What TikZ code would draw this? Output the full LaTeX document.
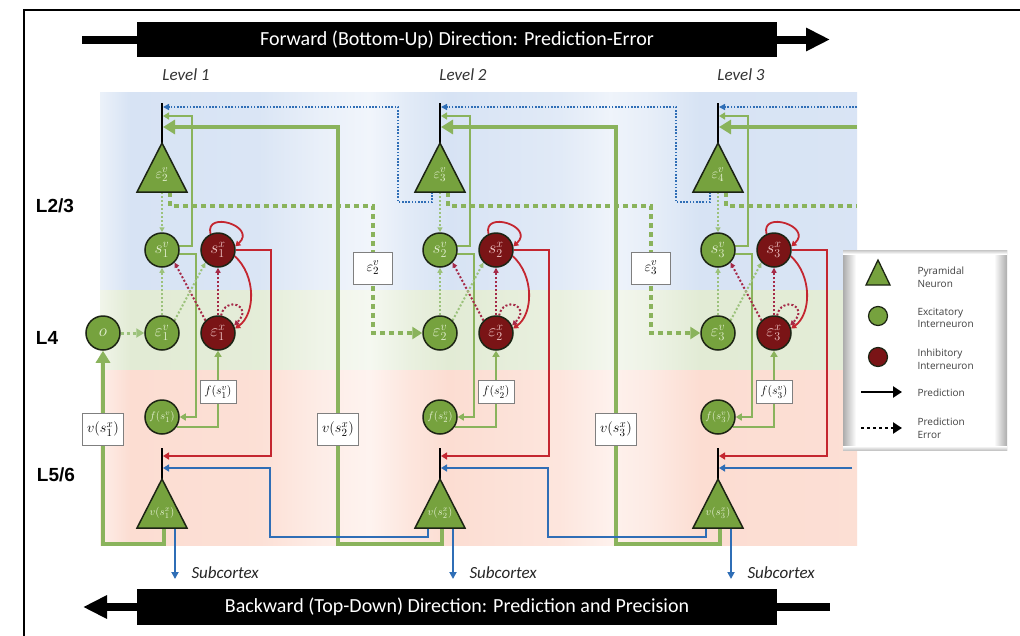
\documentclass[tikz,border=0pt]{standalone}
\usepackage{fontspec}
\setmainfont{Carlito}
\newfontfamily\lsans{Liberation Sans}
\newfontfamily\osans{Open Sans}
\usetikzlibrary{arrows.meta,calc}
\definecolor{gfill}{HTML}{76A23E}
\definecolor{gline}{HTML}{8AB35C}
\definecolor{gdot}{HTML}{9CC27C}
\definecolor{rfill}{HTML}{7A1416}
\definecolor{rline}{HTML}{C42630}
\definecolor{rdot}{HTML}{A52A48}
\definecolor{bline}{HTML}{2F6EB6}
\definecolor{outl}{HTML}{1C2414}
\definecolor{gtext}{HTML}{E4F0D2}
\definecolor{rtext}{HTML}{F4CDCD}
\definecolor{boxc}{HTML}{7F7F7F}
\definecolor{bandB}{HTML}{D7E3F4}
\definecolor{bandG}{HTML}{E2EBD5}
\definecolor{bandP}{HTML}{FCDDD2}
\newcommand\mybandshading[2]{%
 \pgfdeclarehorizontalshading{#1}{100bp}{color(0bp)=(white); color(25bp)=(#2!50!white); color(27bp)=(#2); color(35.5bp)=(#2!92!white); color(39.5bp)=(#2!55!white); color(42.8bp)=(#2!35!white); color(45.5bp)=(#2!75!white); color(48bp)=(#2); color(55.4bp)=(#2!75!white); color(58.7bp)=(#2!40!white); color(61.3bp)=(#2!60!white); color(64.6bp)=(#2); color(75bp)=(#2!95!white); color(100bp)=(white)}}
\mybandshading{shB}{bandB}
\mybandshading{shG}{bandG}
\mybandshading{shP}{bandP}
\pgfdeclarelayer{bands}
\pgfdeclarelayer{lines}
\pgfsetlayers{bands,lines,main}
\begin{document}
\begin{tikzpicture}[x=1pt,y=1pt,
  gnode/.style={circle,draw=outl,line width=1.5pt,fill=gfill,minimum size=34pt,inner sep=0pt,text=gtext,font=\fontsize{17.5}{17.5}\selectfont},
  rnode/.style={gnode,fill=rfill,text=rtext},
  lbox/.style={draw=boxc,fill=white,line width=0.9pt,inner sep=0pt,font=\fontsize{15.5}{15.5}\selectfont},
  gpred/.style={draw=gline,line width=2.2pt},
  gpredT/.style={draw=gline,line width=4.5pt},
  gerr/.style={draw=gdot,line width=2pt,dash pattern=on 2pt off 2pt},
  gerrT/.style={draw=gline,line width=4.5pt,dash pattern=on 4.5pt off 4.5pt},
  rerr/.style={draw=rdot,line width=2pt,dash pattern=on 2pt off 2pt},
  rpred/.style={draw=rline,line width=1.8pt},
  bpred/.style={draw=bline,line width=1.8pt},
  berr/.style={draw=bline,line width=1.6pt,dash pattern=on 1.6pt off 1.6pt},
  pyr/.style={draw=outl,line width=1.5pt,fill=gfill,line join=miter},
  dend/.style={draw=black,line width=2pt},
  smtip/.style={-{Triangle[length=6pt,width=7pt]}},
  bigtip/.style={-{Triangle[length=12pt,width=14pt]}},
  banner/.style={fill=black,minimum width=640pt,minimum height=35pt,inner sep=0pt,text=white,font=\fontsize{20}{20}\selectfont},
  lvl/.style={font=\itshape\fontsize{17}{17}\selectfont,text=black!80},
  lay/.style={font=\lsans\bfseries\fontsize{19}{19}\selectfont},
  legt/.style={anchor=west,align=left,font=\osans\fontsize{10}{12.5}\selectfont,text=black!75},
]
\useasboundingbox (0,0) rectangle (1020,-635);
\begin{pgfonlayer}{bands}
\fill[white] (0,0) rectangle (1020,-635);
\shade[shading=shB] (100,-92) rectangle (857,-290);
\shade[shading=shG] (100,-290) rectangle (857,-370);
\shade[shading=shP] (100,-370) rectangle (857,-545);
\end{pgfonlayer}

% frame
\draw[line width=2.5pt] (24,-640) -- (24,-10) -- (1025,-10);

% banners
\node[banner] (fwd) at (457,-39.5) {Forward (Bottom-Up) Direction: Prediction-Error};
\coordinate (fwdtail) at (82,-39.5);
\coordinate (fwdtip) at (830,-39.5);
\draw[line width=8pt] (fwdtail) -- (fwd.west);
\draw[line width=8pt,-{Triangle[length=24pt,width=22pt]}] (fwd.east) -- (fwdtip);
\node[banner,minimum height=36pt] (bwd) at (457,-607) {Backward (Top-Down) Direction: Prediction and Precision};
\coordinate (bwdtip) at (83,-607);
\coordinate (bwdtail) at (830,-607);
\draw[line width=8pt,-{Triangle[length=24pt,width=22pt]}] (bwd.west) -- (bwdtip);
\draw[line width=8pt] (bwd.east) -- (bwdtail);

% labels
\node[lvl] (lv1) at (186,-75) {Level 1};
\node[lvl] (lv2) at (463,-75) {Level 2};
\node[lvl] (lv3) at (741,-75) {Level 3};
\node[lay] (l23) at (55,-206) {L2/3};
\node[lay] (l4) at (47,-338) {L4};
\node[lay] (l56) at (56,-475) {L5/6};

% levels: nodes
\foreach \X/\i/\j in {162/1/2, 440/2/3, 718/3/4}{
  \coordinate (ta\i) at (\X,-143);
  \coordinate (tl\i) at ({\X-25},-192);
  \coordinate (tr\i) at ({\X+25},-192);
  \coordinate (tt\i) at (\X,-103);
  \coordinate (tb\i) at (\X,-192);
  \coordinate (te\i) at ({\X+8},-192);
  \coordinate (tk\i) at ({\X-8},-192);
  \coordinate (dA\i) at ({\X+1},-107);
  \coordinate (dB\i) at ({\X+1},-116);
  \coordinate (dC\i) at ({\X+1},-127);
  \draw[dend] (ta\i) -- (tt\i);
  \draw[pyr] (tl\i) -- (tr\i) -- (ta\i) -- cycle;
  \node[font=\fontsize{15}{15}\selectfont,text=gtext] (tp\i) at (\X,-175) {$\varepsilon_{\j}^{v}$};
  \coordinate (ba\i) at (\X,-479);
  \coordinate (bl\i) at ({\X-25},-528);
  \coordinate (br\i) at ({\X+25},-528);
  \coordinate (bt\i) at (\X,-448);
  \coordinate (bm\i) at ({\X+2},-528);
  \coordinate (bk\i) at ({\X-12},-528);
  \coordinate (sc\i) at ({\X+13},-528);
  \coordinate (se\i) at ({\X+13},-579);
  \coordinate (dR\i) at ({\X+1},-456);
  \coordinate (dL\i) at ({\X+1},-468);
  \draw[dend] (ba\i) -- (bt\i);
  \draw[pyr] (bl\i) -- (br\i) -- (ba\i) -- cycle;
  \node[font=\fontsize{11}{11}\selectfont,text=gtext] (bp\i) at (\X,-513) {$v(s_{\i}^{x})$};
  \node[gnode] (sv\i) at (\X,-250) {$s_{\i}^{v}$};
  \node[rnode] (sx\i) at ({\X+56},-250) {$s_{\i}^{x}$};
  \node[gnode] (ev\i) at (\X,-333) {$\varepsilon_{\i}^{v}$};
  \node[rnode] (ex\i) at ({\X+56},-333) {$\varepsilon_{\i}^{x}$};
  \node[gnode,font=\fontsize{11}{11}\selectfont] (fc\i) at (\X,-417) {$f(s_{\i}^{v})$};
  \node[lbox,minimum width=36pt,minimum height=23pt,font=\fontsize{12.5}{12.5}\selectfont] (fb\i) at ({\X+56},-392) {$f(s_{\i}^{v})$};
  \node[anchor=west,font=\itshape\fontsize{17}{17}\selectfont,text=black!85] (sub\i) at ({\X+26},-573) {Subcortex};
}
\node[gnode] (o) at (103,-333) {$o$};
\node[lbox,minimum width=41pt,minimum height=32pt] (vb1) at (103,-429) {$v(s_1^x)$};
\node[lbox,minimum width=41pt,minimum height=32pt] (vb2) at (338,-429) {$v(s_2^x)$};
\node[lbox,minimum width=41pt,minimum height=32pt] (vb3) at (616,-429) {$v(s_3^x)$};
\node[lbox,minimum width=39pt,minimum height=32pt] (eb2) at (373,-268) {$\varepsilon_2^v$};
\node[lbox,minimum width=39pt,minimum height=32pt] (eb3) at (651,-268) {$\varepsilon_3^v$};
\coordinate (rin1) at (857,-127);
\coordinate (rin2) at (857,-107);
\coordinate (rin3) at (852,-468);
\coordinate (rout) at (857,-206);

% connectors
\begin{pgfonlayer}{lines}
\foreach \X/\i in {162/1, 440/2, 718/3}{
  \draw[gpred,smtip] (sv\i.12) -| ({\X+30},-116) -- (dB\i);
  \draw[gpred,smtip] (sv\i.-14) -| ($(fc\i.east)+(16,0)$) -- (fc\i.east);
  \draw[gpred,smtip] (fc\i.-35) -| (ex\i.south);
  \draw[rpred,smtip] (sx\i.east) -| ({\X+109},-456) -- (dR\i);
  \draw[rpred,-{Triangle[length=5pt,width=6pt]}] (sx\i.115) .. controls +(-6,24) and +(22,20) .. (sx\i.12);
  \draw[rpred,-{Triangle[length=5pt,width=6pt]}] (sx\i.-20) .. controls +(22,-20) and +(20,14) .. (ex\i.15);
  \draw[rerr,-{Triangle[length=5pt,width=5pt]}] (ex\i.80) .. controls +(4,20) and +(20,20) .. (ex\i.25);
  \draw[rerr,-{Triangle[length=5pt,width=5pt]}] (ex\i.north) -- (sx\i.south);
  \draw[rerr,-{Triangle[length=5pt,width=5pt]}] (ex\i.135) -- (sv\i.-45);
  \draw[gerr,-{Triangle[length=5pt,width=5pt]}] (ev\i.north) -- (sv\i.south);
  \draw[gerr,-{Triangle[length=5pt,width=5pt]}] (ev\i.45) -- (sx\i.-135);
  \draw[gerr,-{Triangle[length=5pt,width=5pt]}] (tb\i) -- (sv\i.north);
  \draw[bpred,-{Triangle[length=7pt,width=7pt]}] (sc\i) -- (se\i);
}
\foreach \X/\Y/\i/\j/\V in {162/440/1/2/338, 440/718/2/3/616}{
  \draw[gpredT,bigtip] (bm\j) |- (\V,-544) |- (dC\i);
  \draw[bpred,smtip] (bk\j) |- ({\X+108},-537) |- (dL\i);
  \draw[gerrT,-{Triangle[length=10pt,width=12pt]}] (te\i) |- ({\Y-67},-206) |- (ev\j.west);
  \draw[berr,-{Triangle[length=6pt,width=6pt]}] (tk\j) |- ({\X+236},-202) |- (dA\i);
}
\draw[gpredT,bigtip] (bm1) |- (103,-544) -- (o.south);
\draw[gerr,line width=3pt,dash pattern=on 3pt off 3pt,-{Triangle[length=8pt,width=9pt]}] (o.east) -- (ev1.west);
\draw[gpredT,bigtip] (rin1) -- (dC3);
\draw[berr,-{Triangle[length=6pt,width=6pt]}] (rin2) -- (dA3);
\draw[bpred,smtip] (rin3) -- (dL3);
\draw[gerrT] (te3) |- (rout);
\end{pgfonlayer}

% legend
\fill[white] (843,-250) rectangle (1007,-450);
\shade[left color=gray!65,right color=white] (843,-250) rectangle (856,-450);
\shade[left color=white,right color=gray!65] (994,-250) rectangle (1007,-450);
\shade[top color=gray!45,bottom color=white] (843,-250) rectangle (1007,-254);
\shade[top color=white,bottom color=gray!45] (843,-446) rectangle (1007,-450);
\coordinate (lgl) at (866,-285);
\coordinate (lgr) at (890,-285);
\coordinate (lga) at (878,-260);
\draw[pyr,line width=1.3pt] (lgl) -- (lgr) -- (lga) -- cycle;
\node[gnode,minimum size=19pt,line width=1.2pt] (lgc) at (878,-316) {};
\node[rnode,minimum size=19pt,line width=1.2pt] (lrc) at (878,-357) {};
\coordinate (la1) at (861,-392);
\coordinate (la2) at (902,-392);
\coordinate (lb1) at (861,-428);
\coordinate (lb2) at (902,-428);
\draw[line width=2.6pt,-{Triangle[length=9pt,width=11pt]}] (la1) -- (la2);
\draw[line width=2.6pt,dash pattern=on 3pt off 3pt,-{Triangle[length=9pt,width=11pt]}] (lb1) -- (lb2);
\node[legt] (lt1) at (914,-277) {Pyramidal\\Neuron};
\node[legt] (lt2) at (914,-318) {Excitatory\\Interneuron};
\node[legt] (lt3) at (914,-359) {Inhibitory\\Interneuron};
\node[legt] (lt4) at (914,-393) {Prediction};
\node[legt] (lt5) at (914,-428) {Prediction\\Error};
\end{tikzpicture}
\end{document}
